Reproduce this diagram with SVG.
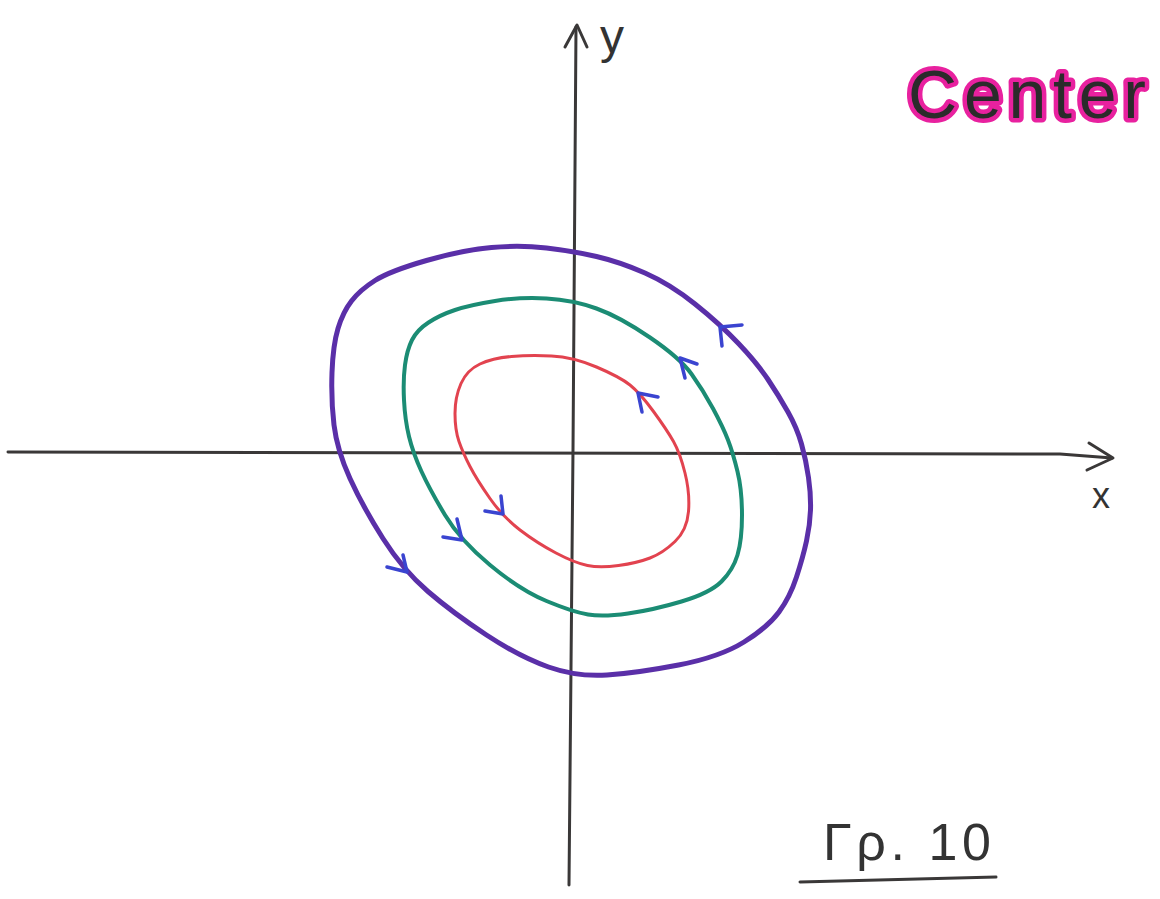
<svg xmlns="http://www.w3.org/2000/svg" width="1160" height="899" viewBox="0 0 1160 899">
<style>
.axis{fill:none;stroke:#3a3838;stroke-width:3;stroke-linecap:round;stroke-linejoin:round}
.orbit{fill:none;stroke-linecap:round;stroke-linejoin:round}
.arr{fill:none;stroke:#3a44d0;stroke-width:3.5;stroke-linecap:round;stroke-linejoin:round}
.lbl{font-family:"Liberation Sans",Arial,sans-serif;fill:#333}
</style>
<rect width="1160" height="899" fill="#ffffff"/>
<g id="axes">
<path class="axis" d="M8,452 L1060,454 L1112,458"/>
<path class="axis" d="M1089,443 L1113,458 L1087,470"/>
<path class="axis" d="M576,27 L573,450 L569,885"/>
<path class="axis" d="M565,47 L577,25 L587,47"/>
<text class="lbl" x="600" y="53" font-size="48">y</text>
<text class="lbl" x="1092" y="508" font-size="36">x</text>
</g>
<g id="orbit-outer">
<path class="orbit" stroke="#5a2fa8" stroke-width="5" d="M 596.5,256.5 Q 620,262 645,273 Q 670,284 695,304 Q 720,324 738.5,343.5 Q 757,363 768,379.5 Q 779,396 788,412 Q 797,428 801.5,444 Q 806,460 808.5,477.5 Q 811,495 810.5,510 Q 810,525 806.5,541 Q 803,557 796.5,577 Q 790,597 779,612 Q 768,627 744,642 Q 720,657 678.5,665 Q 637,673 607,675 Q 577,677 548.5,667 Q 520,657 486.5,635 Q 453,613 428,591.5 Q 403,570 383,538.5 Q 363,507 350,478.5 Q 337,450 334,425 Q 331,400 332,372.5 Q 333,345 338,328.5 Q 343,312 351.5,301 Q 360,290 375,280.5 Q 390,271 426.5,260.5 Q 463,250 491.5,247.5 Q 520,245 546.5,248 Q 573,251 596.5,256.5 Z"/>
</g>
<g id="orbit-middle">
<path class="orbit" stroke="#1b8c74" stroke-width="4" d="M 596.5,308.5 Q 620,317 650,337.5 Q 680,358 691.5,374 Q 703,390 713,408.5 Q 723,427 728,440 Q 733,453 737.5,471.5 Q 742,490 742,515 Q 742,540 737.5,555 Q 733,570 721.5,581.5 Q 710,593 681.5,601.5 Q 653,610 628,613.5 Q 603,617 588,614.5 Q 573,612 546.5,601 Q 520,590 490,565 Q 460,540 445,515 Q 430,490 421.5,471.5 Q 413,453 409,436.5 Q 405,420 404,400 Q 403,380 405,365 Q 407,350 412,340 Q 417,330 428.5,322.5 Q 440,315 455,310 Q 470,305 495,301 Q 520,297 546.5,298.5 Q 573,300 596.5,308.5 Z"/>
</g>
<g id="orbit-inner">
<path class="orbit" stroke="#e2434f" stroke-width="3" d="M 596.5,367 Q 620,377 630,385 Q 640,393 653.5,411.5 Q 667,430 673.5,441.5 Q 680,453 685,473 Q 690,493 688.5,511.5 Q 687,530 675,541.5 Q 663,553 650,558 Q 637,563 618.5,565.5 Q 600,568 587.5,565.5 Q 575,563 556,553 Q 537,543 520,530 Q 503,517 490,498.5 Q 477,480 470,466.5 Q 463,453 459,441.5 Q 455,430 455,413.5 Q 455,397 461,383.5 Q 467,370 480,364 Q 493,358 511.5,356.5 Q 530,355 551.5,356 Q 573,357 596.5,367 Z"/>
</g>
<g id="connectors">
<path class="arr" d="M742,325 L720,327 L722,346"/>
<path class="arr" d="M697,364 L680,358 L685,378"/>
<path class="arr" d="M658,397 L638,393 L642,412"/>
<path class="arr" d="M387,567 L407,572 L403,555"/>
<path class="arr" d="M443,537 L462,540 L457,519"/>
<path class="arr" d="M485,511 L503,514 L501,496"/>
</g>
<g id="title">
<text x="908" y="118" font-family="Liberation Sans, Arial, sans-serif" font-size="68" fill="#2b2b2b" stroke="#e8219f" stroke-width="9" stroke-linejoin="round" paint-order="stroke" textLength="238" lengthAdjust="spacing">Center</text>
</g>
<g id="caption">
<text class="lbl" x="823" y="860" font-size="52" textLength="168" lengthAdjust="spacing">Γρ. 10</text>
<path class="axis" d="M800,882 L996,877"/>
</g>
</svg>
